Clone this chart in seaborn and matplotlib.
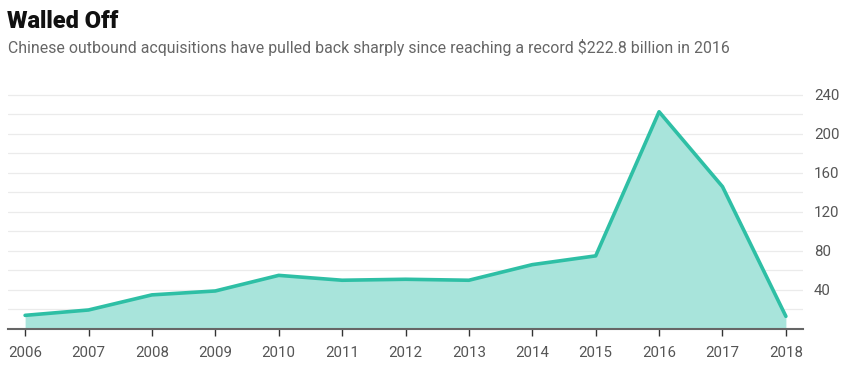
import matplotlib
matplotlib.use("Agg")
import matplotlib.pyplot as plt
import seaborn as sns
import pandas as pd

years = [2006, 2007, 2008, 2009, 2010, 2011, 2012, 2013, 2014, 2015, 2016, 2017, 2018]
values = [14, 19.5, 35, 39, 55, 50, 51, 50, 66, 75, 222.8, 146, 13]
yticks = [40, 80, 120, 160, 200, 240]

df = pd.DataFrame({"year": years, "value": values})

sns.set_theme(style="white")
plt.rcParams["font.family"] = ["Roboto", "DejaVu Sans"]

fig = plt.figure(figsize=(8.48, 3.68), dpi=100)
ax = fig.add_axes([8/848, 39/368, 795/848, 235/368])

line_color = "#2ebfa5"
fill_color = "#a8e4db"

ax.fill_between(df["year"], df["value"], 0, color=fill_color, lw=0, zorder=2)
sns.lineplot(data=df, x="year", y="value", ax=ax, color=line_color, lw=2.6, zorder=3)

ax.set_xlim(2005.73, 2018.27)
ax.set_ylim(0, 241)
for g in range(20, 241, 20):
    ax.axhline(g, color="#ebebeb", lw=0.9, zorder=1)

ax.set_yticks(yticks)
ax.yaxis.tick_right()
ax.tick_params(axis="y", length=0, pad=8, labelsize=10.8, labelcolor="#555555")
ax.set_xticks(years)
ax.set_xticklabels([str(y) for y in years])
ax.tick_params(axis="x", direction="out", length=5, width=1, color="#333333", pad=7,
               labelsize=10.8, labelcolor="#555555", bottom=True)
ax.set_xlabel("")
ax.set_ylabel("")
for s in ["top", "left", "right"]:
    ax.spines[s].set_visible(False)
ax.spines["bottom"].set_color("#666666")
ax.spines["bottom"].set_linewidth(1.5)
ax.spines["bottom"].set_zorder(4)

fig.text(7/848, 1 - 22/368, "Walled Off", fontsize=17, fontweight="black",
         color="#111111", va="center", ha="left", family=["Roboto", "DejaVu Sans"])
fig.text(8/848, 1 - 48/368, "Chinese outbound acquisitions have pulled back sharply since reaching a record $222.8 billion in 2016",
         fontsize=11.4, color="#666666", va="center", ha="left")

fig.savefig("out.png", dpi=100)
